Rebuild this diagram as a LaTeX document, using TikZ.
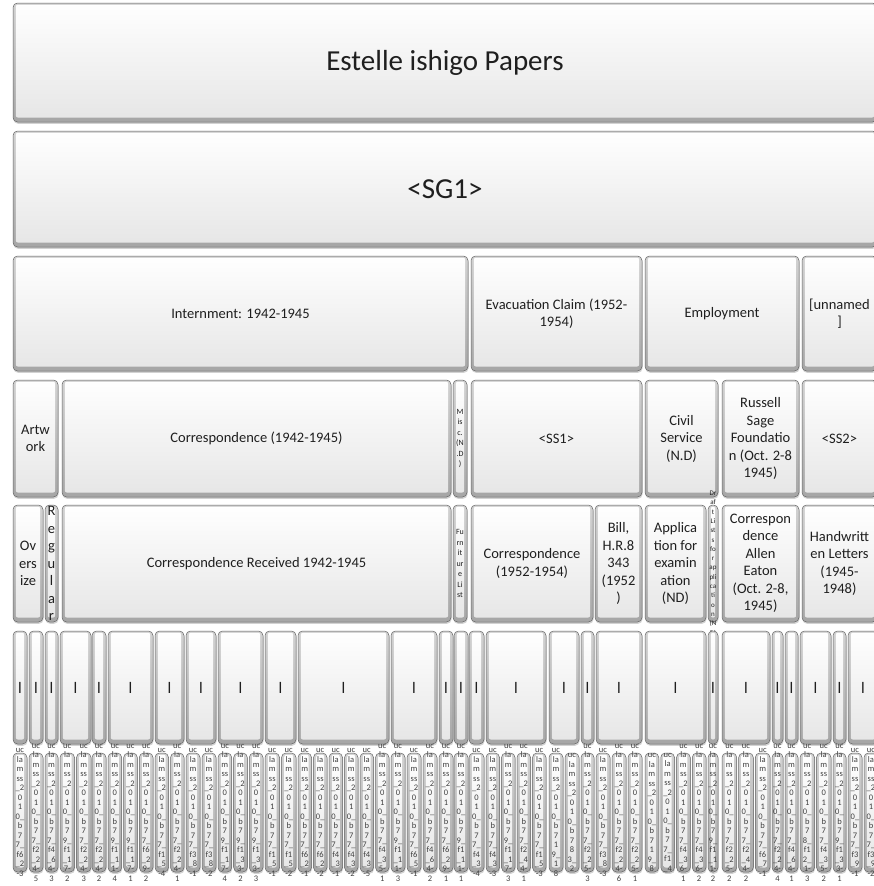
\documentclass[tikz,border=0pt]{standalone}
\usepackage{fontspec}
\setmainfont{Carlito}
\usepackage{tikz}
\usetikzlibrary{shapes, positioning, calc, backgrounds, shadows}
\tikzstyle{tile} = [rectangle, rounded corners=4.5pt, draw=black!60, line width=0.5pt, top color=gray!35, bottom color=gray!70, inner sep=0pt, outer sep=0pt, drop shadow={shadow xshift=0.5pt, shadow yshift=-1.8pt, opacity=0.35}, path picture={\shade[rounded corners=2pt, top color=white, bottom color=gray!20] ($(path picture bounding box.north west)+(2.8pt,-1.8pt)$) rectangle ($(path picture bounding box.south east)+(-2.8pt,4.5pt)$);}]
\tikzstyle{tile_text} = [align=center, inner sep=0pt, text=black!88, font=\fontsize{14.5}{17.5}\selectfont]
\tikzstyle{big_font} = [font=\fontsize{29}{35}\selectfont]
\tikzstyle{small_font} = [font=\fontsize{8}{10.5}\selectfont]
\tikzstyle{tiny_font} = [font=\fontsize{7}{9.3}\selectfont]
\tikzstyle{bar_font} = [font=\fontsize{16}{18}\selectfont]
\tikzstyle{leaf_font} = [font=\fontsize{8.5}{9.5}\selectfont, text=black!75]
% box with its text on top: [text opts]{name}{x1}{y1}{x2}{y2}{text}
\newcommand{\tile}[7][]{%
  \node[tile, minimum width={(#5-#3)*1pt}, minimum height={(#6-#4)*1pt}] (#2) at ({(#3+#5)/2},{(#4+#6)/2}) {};
  \node[tile_text, #1] (#2_txt) at (#2.center) {#7};
}
% file name stacked two letters a line
\newcommand{\ucb}[1]{uc\\la\\m\\ss\\\_2\\0\\1\\0\_\\b\\7\\#1}

\begin{document}
\begin{tikzpicture}[x=1pt, y=-1pt]
    \useasboundingbox (0,0) rectangle (874,886);
    \fill[white] (0,0) rectangle (874,886);
    \clip (0,0) rectangle (874,886);

    % Top two levels
    \tile[big_font]{papers}{13}{3}{877}{122}{Estelle ishigo Papers}
    \tile[big_font]{sg_one}{13}{131}{877}{247}{<SG1>}

    % Series
    \tile{internment}{13}{256}{468}{371}{Internment: 1942-1945}
    \tile{evac_claim}{471}{256}{642}{371}{Evacuation Claim (1952-\\1954)}
    \tile{employment}{645}{256}{799}{371}{Employment}
    \tile{unnamed}{802}{256}{877}{371}{[unnamed\\]}

    % Subseries
    \tile{artwork}{13}{380}{58}{497}{Artw\\ork}
    \tile{corresp}{62}{380}{451}{497}{Correspondence (1942-1945)}
    \tile[small_font]{misc}{453}{380}{467}{497}{M\\is\\c.\\(N\\.D\\)}
    \tile{ss_one}{471}{380}{642}{497}{<SS1>}
    \tile{civil}{645}{380}{718}{497}{Civil\\Service\\(N.D)}
    \tile{russell}{722}{380}{799}{497}{Russell\\Sage\\Foundatio\\n (Oct. 2-8\\1945)}
    \tile{ss_two}{802}{380}{877}{497}{<SS2>}

    % Folders
    \tile{oversize}{13}{505}{43}{622}{Ov\\ers\\ize}
    \tile{regular}{45}{505}{58}{622}{R\\e\\g\\u\\l\\a\\r}
    \tile{corr_recv}{62}{505}{451}{622}{Correspondence Received 1942-1945}
    \tile[small_font]{furniture}{453}{505}{467}{622}{Fu\\rn\\it\\ur\\e\\Li\\st}
    \tile{corr_claim}{471}{505}{593}{622}{Correspondence\\(1952-1954)}
    \tile{bill}{595}{505}{642}{622}{Bill,\\H.R.8\\343\\(1952\\)}
    \tile{application}{645}{505}{706}{622}{Applica\\tion for\\examin\\ation\\(ND)}
    \tile[tiny_font]{drafts}{708}{505}{718}{622}{Dr\\af\\t\\Li\\st\\s\\fo\\r\\ap\\pli\\ca\\ti\\o\\n\\(N\\D)}
    \tile{eaton}{722}{505}{799}{622}{Correspon\\dence\\Allen\\Eaton\\(Oct. 2-8,\\1945)}
    \tile{handwritten}{802}{505}{877}{622}{Handwritt\\en Letters\\(1945-\\1948)}

    % Items
    \foreach \xa/\xb [count=\i] in {13/27, 29/43, 45/58, 60/91, 92/106, 108/153, 155/184, 186/216, 218/263, 265/296, 298/389, 391/437, 439/453, 454/468, 469/484, 486/546, 549/579, 581/594, 596/642, 645/706, 708/718, 722/770, 772/783, 785/798, 800/831, 833/846, 848/878}
        {\tile[bar_font]{item_\i}{\xa}{631}{\xb}{744}{l}}

    % Digital files
    \foreach \xa/\xb/\t [count=\i] in {
        13/27/{7\_\\f6\\\_2\\-3}, 29/43/{7\_\\f2\\\_2\\4-\\5}, 45/58/{7\_\\f4\\\_6\\4-\\3},
        60/74.5/{9\_\\f1\\\_1\\7-\\2}, 76.5/91/{7\_\\f2\\\_2\\4-\\3}, 92/106/{7\_\\f2\\\_2\\4-\\2},
        108/121.7/{9\_\\f1\\\_1\\1-\\4}, 123.7/137.3/{9\_\\f1\\\_1\\7-\\1}, 139.3/153/{7\_\\f6\\\_2\\9-\\2},
        155/168.5/{7\_\\f1\\\_5\\-4}, 170.5/184/{7\_\\f2\\\_2\\4-\\1}, 186/200/{7\_\\f3\\\_8\\-1},
        202/216/{7\_\\f3\\\_8\\-2}, 218/231.7/{9\_\\f1\\\_1\\7-\\4}, 233.7/247.3/{9\_\\f1\\\_3\\3-\\2},
        249.3/263/{9\_\\f1\\\_3\\3-\\3}, 265/279.5/{7\_\\f1\\\_5\\-1}, 281.5/296/{7\_\\f1\\\_5\\-2},
        298/311.5/{7\_\\f6\\\_2\\-1}, 313.5/327/{7\_\\f6\\\_2\\-2}, 329/342.5/{7\_\\f4\\\_3\\-1},
        344.5/358/{7\_\\f4\\\_3\\-2}, 360/373.5/{7\_\\f4\\\_3\\-5}, 375.5/389/{7\_\\f4\\\_3\\5-\\1},
        391/405/{9\_\\f1\\\_1\\1-\\3}, 407/421/{7\_\\f6\\\_5\\-1}, 423/437/{7\_\\f4\\\_6\\4-\\2},
        439/453/{7\_\\f6\\\_2\\9-\\1}, 454/468/{9\_\\f1\\\_1\\1-\\1}, 469/484/{7\_\\f4\\\_3\\-4},
        486/499.5/{7\_\\f4\\\_3\\-3}, 501.5/515/{9\_\\f1\\\_1\\7-\\3}, 517/530.5/{7\_\\f2\\\_4\\4-\\1},
        532.5/546/{7\_\\f1\\\_5\\-3}, 549/563/{1\\9\_\\1\\8}, 565/579/{8\\3\_\\2},
        581/594/{7\_\\f2\\\_2\\5-\\3}, 596/610/{7\_\\f3\\\_8\\-3}, 612/626/{7\_\\f2\\\_2\\4-\\6},
        628/642/{7\_\\f2\\\_2\\5-\\1}, 645/658.75/{1\\9\_\\8}, 660.75/674.5/{7\_\\f1\\\_4},
        676.5/690.25/{7\_\\f4\\\_3\\6-\\1}, 692.25/706/{7\_\\f4\\\_3\\6-\\2}, 708/718/{9\_\\f1\\\_1\\1-\\2},
        722/736.7/{7\_\\f2\\\_2\\5-\\2}, 738.7/753.3/{7\_\\f2\\\_4\\4-\\2}, 755.3/770/{7\_\\f6\\\_7\\-1},
        772/783/{7\_\\f2\\\_2\\4-\\4}, 785/798/{7\_\\f4\\\_6\\4-\\1}, 800/814.5/{8\_\\f1\\2\_\\1-\\3},
        816.5/831/{7\_\\f4\\\_3\\5-\\2}, 833/846/{9\_\\f1\\\_3\\3-\\1}, 848/862/{7\_\\f3\\\_9\\-1},
        864/878/{7\_\\f3\\\_9\\-2}}
        {\tile[leaf_font]{file_\i}{\xa}{753}{\xb}{872}{\ucb{\t}}}
\end{tikzpicture}
\end{document}
